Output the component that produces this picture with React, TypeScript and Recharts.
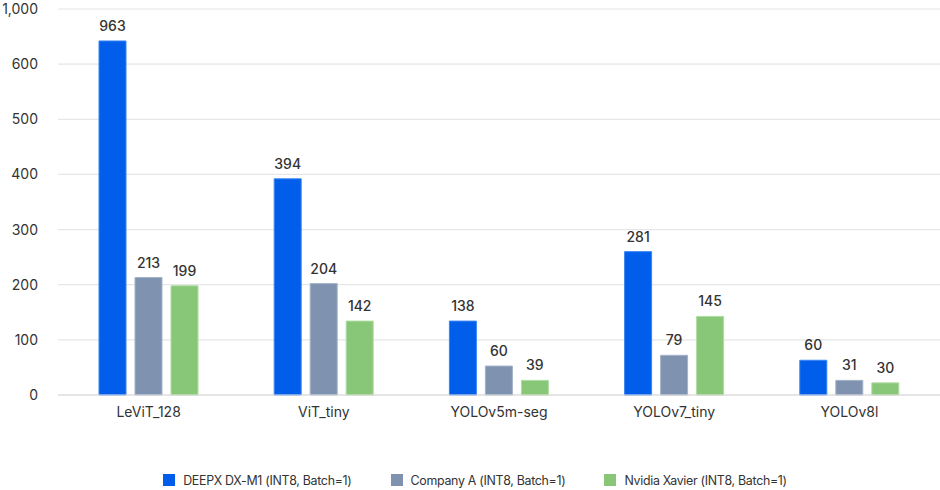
import { BarChart, Bar, XAxis, YAxis, CartesianGrid, Legend, LabelList } from 'recharts'

// models on the x axis
const models = ['LeViT_128', 'ViT_tiny', 'YOLOv5m-seg', 'YOLOv7_tiny', 'YOLOv8l']

// bar heights as drawn on the (broken) axis
const deepxHeight = [642, 392, 134, 260, 63]
const companyAHeight = [213, 202, 52.5, 72, 26.5]
const xavierHeight = [198, 134, 26.5, 142.5, 22]

// numbers printed above the bars
const deepxLabel = [963, 394, 138, 281, 60]
const companyALabel = [213, 204, 60, 79, 31]
const xavierLabel = [199, 142, 39, 145, 30]

// the top tick stands for 1,000
const yTicks = [0, 100, 200, 300, 400, 500, 600, 700]
const yTickLabels = ['0', '100', '200', '300', '400', '500', '600', '1,000']

const series = [
  { key: 'deepx', label: 'deepxLabel', name: 'DEEPX DX-M1 (INT8, Batch=1)', color: '#005eeb', stroke: '#3a84f2' },
  { key: 'companyA', label: 'companyALabel', name: 'Company A (INT8, Batch=1)', color: '#7f93b0', stroke: '#a3b2c7' },
  { key: 'xavier', label: 'xavierLabel', name: 'Nvidia Xavier (INT8, Batch=1)', color: '#88c777', stroke: '#aedca2' },
]

const data = models.map((model, i) => ({
  model,
  deepx: deepxHeight[i],
  companyA: companyAHeight[i],
  xavier: xavierHeight[i],
  deepxLabel: deepxLabel[i],
  companyALabel: companyALabel[i],
  xavierLabel: xavierLabel[i],
}))

const textColor = '#333333'
const font = 'Inter, "Noto Sans", sans-serif'

function ChartLegend() {
  return (
    <div style={{ display: 'flex', justifyContent: 'center', alignItems: 'center', height: 20, fontFamily: font, fontSize: 12.4, letterSpacing: -0.3, color: textColor, paddingLeft: 10 }}>
      {series.map((s, i) => (
        <div key={s.key} style={{ display: 'flex', alignItems: 'center', marginLeft: i === 0 ? 0 : 39 }}>
          <div style={{ width: 12, height: 12, backgroundColor: s.color, marginRight: 8 }} />
          <span>{s.name}</span>
        </div>
      ))}
    </div>
  )
}

export default function App() {
  return (
    <div style={{ position: 'absolute', left: 0, top: 0, background: '#fff' }}>
      <BarChart
        width={940}
        height={490}
        data={data}
        margin={{ top: 9, right: 0, left: 0, bottom: 0 }}
        barSize={27}
        barGap={9}
      >
        <CartesianGrid vertical={false} stroke="#e6e6e6" strokeWidth={1.2} />
        <XAxis
          dataKey="model"
          height={75}
          padding={{ left: 3, right: 3 }}
          tickLine={false}
          axisLine={{ stroke: '#d9d9d9' }}
          tickMargin={6}
          tick={{ fill: textColor, fontSize: 14, fontFamily: font }}
        />
        <YAxis
          width={58}
          domain={[0, 700]}
          ticks={yTicks}
          tickFormatter={(v: number) => yTickLabels[yTicks.indexOf(v)]}
          tickLine={false}
          axisLine={false}
          tickMargin={14}
          tick={{ fill: textColor, fontSize: 14, fontFamily: font }}
        />
        <Legend verticalAlign="bottom" height={20} content={() => <ChartLegend />} />
        {series.map(s => (
          <Bar key={s.key} dataKey={s.key} name={s.name} fill={s.color} stroke={s.stroke} strokeWidth={1} isAnimationActive={false}>
            <LabelList dataKey={s.label} position="top" offset={10} fill={textColor} fontSize={14} fontFamily={font} fontWeight={500} />
          </Bar>
        ))}
      </BarChart>
    </div>
  )
}
